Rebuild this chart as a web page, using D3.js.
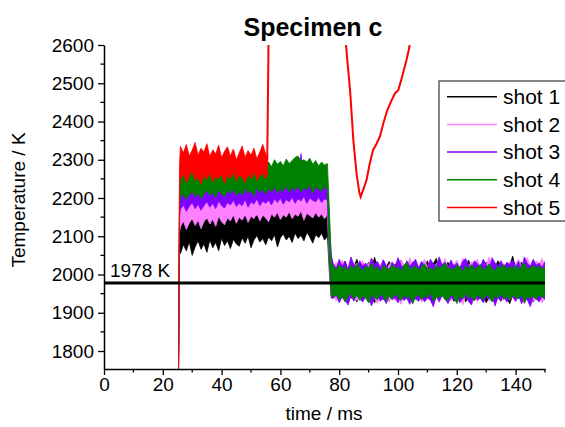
<!DOCTYPE html>
<html><head><meta charset="utf-8">
<script src="https://cdn.jsdelivr.net/npm/d3@7"></script>
<style>body{margin:0;background:#fff}svg{display:block;font-family:"Liberation Sans",Arial,sans-serif}</style>
</head><body><svg id="c" width="565" height="427"></svg>
<script>
// ---------- data ----------
const seriesNames = ["shot 1","shot 2","shot 3","shot 4","shot 5"];
const seriesColors = ["#000000","#ff80ff","#8000ff","#008000","#ff0000"];
const xTicks = [0,20,40,60,80,100,120,140];
const yTicks = [1800,1900,2000,2100,2200,2300,2400,2500,2600];
const refLevel = 1978;

const time = [25.3,25.7,
26,27,28,29,30,31,32,33,34,35,36,37,38,39,40,41,42,43,44,45,46,47,48,49,50,
51,52,53,54,55,56,57,58,59,60,61,62,63,64,65,66,67,68,69,70,71,72,73,74,75,76,
76.7,77.3,
78,79,80,81,82,83,84,85,86,87,88,89,90,91,92,93,94,95,96,97,98,99,100,
101,102,103,104,105,106,107,108,109,110,111,112,113,114,115,116,117,118,119,120,
121,122,123,124,125,126,127,128,129,130,131,132,133,134,135,136,137,138,139,140,
141,142,143,144,145,146,147,148,149,150];

const shot1Hi = [1700,2120,
2150,2135,2160,2142,2155,2138,2165,2148,2158,2140,
2162,2145,2156,2170,2150,2164,2146,2160,2152,2168,
2155,2162,2148,2172,2158,2166,2150,2170,2160,2175,
2162,2170,2156,2178,2165,2172,2158,2176,2168,2180,
2165,2174,2160,2178,2170,2182,2166,2176,2172,2180,2168,
2090,2040,
2025,2012,2030,2018,2035,2010,2028,2020,2040,2015,
2026,2018,2032,2012,2045,2022,2016,2030,2020,2034,
2014,2028,2022,2038,2012,2026,2018,2032,2024,2016,
2030,2020,2036,2014,2028,2042,2018,2026,2020,2032,
2016,2024,2034,2012,2028,2020,2038,2016,2030,2022,
2026,2014,2032,2020,2028,2018,2036,2022,2014,2030,
2024,2048,2018,2026,2032,2016,2028,2020,2034,2018,
2026,2030,2020];
const shot1Lo = [1700,2060,
2055,2078,2062,2085,2050,2072,2088,2066,2080,2058,
2090,2070,2084,2062,2095,2076,2088,2068,2092,2080,
2074,2096,2082,2100,2070,2090,2102,2085,2094,2078,
2098,2088,2104,2072,2096,2106,2090,2100,2084,2108,
2094,2102,2088,2110,2098,2082,2104,2096,2108,2090,2100,
2000,1945,
1940,1952,1934,1946,1930,1948,1938,1944,1928,1950,
1936,1944,1932,1948,1926,1940,1946,1934,1942,1930,
1948,1936,1944,1930,1950,1938,1942,1924,1946,1936,
1940,1932,1948,1938,1926,1944,1936,1950,1934,1942,
1946,1930,1940,1936,1948,1928,1942,1938,1932,1946,
1936,1944,1926,1940,1948,1934,1942,1930,1946,1938,
1924,1944,1936,1948,1930,1940,1934,1946,1928,1942,
1938,1932,1944];

const shot2Hi = [1700,2160,
2190,2178,2200,2185,2196,2180,2205,2188,2198,2184,
2202,2190,2196,2208,2186,2200,2194,2210,2192,2204,
2198,2206,2190,2212,2200,2194,2208,2202,2214,2196,
2206,2200,2212,2196,2210,2204,2216,2200,2208,2214,
2202,2210,2198,2216,2206,2212,2200,2214,2208,2204,2210,
2120,2045,
2020,2032,2014,2038,2024,2016,2042,2022,2030,2012,
2036,2020,2028,2044,2018,2030,2024,2040,2014,2026,
2034,2022,2016,2038,2028,2020,2044,2024,2030,2018,
2026,2040,2020,2032,2016,2028,2036,2022,2042,2018,
2030,2024,2038,2016,2044,2026,2020,2034,2028,2040,
2018,2032,2024,2046,2020,2030,2016,2036,2026,2022,
2034,2018,2028,2040,2022,2030,2044,2024,2016,2036,
2028,2042,2022];
const shot2Lo = [1700,2110,
2125,2140,2118,2135,2146,2128,2142,2120,2138,2150,
2132,2145,2126,2152,2138,2130,2148,2140,2156,2134,
2150,2142,2158,2136,2152,2146,2160,2140,2155,2148,
2138,2158,2150,2162,2144,2156,2150,2164,2146,2158,
2152,2166,2142,2160,2154,2148,2162,2150,2158,2146,2156,
2010,1940,
1944,1930,1948,1936,1942,1926,1946,1938,1932,1950,
1934,1942,1928,1946,1938,1924,1944,1936,1940,1930,
1946,1932,1940,1922,1944,1938,1930,1948,1934,1942,
1928,1940,1946,1932,1938,1944,1926,1942,1936,1948,
1930,1944,1934,1940,1920,1946,1938,1932,1944,1928,
1942,1936,1948,1930,1940,1924,1944,1938,1932,1946,
1934,1942,1928,1946,1936,1922,1940,1944,1930,1938,
1946,1926,1940];

const shot3Hi = [1700,2190,
2225,2212,2236,2218,2230,2214,2238,2222,2232,2216,
2240,2226,2234,2220,2244,2228,2236,2224,2242,2230,
2238,2226,2246,2232,2240,2228,2248,2236,2242,2230,
2246,2234,2250,2238,2244,2232,2252,2240,2248,2236,
2250,2316,2246,2238,2254,2240,2248,2244,2236,2250,2242,
2140,2050,
2028,2016,2040,2022,2034,2014,2046,2026,2018,2036,
2022,2030,2016,2042,2026,2034,2018,2038,2024,2012,
2032,2020,2044,2026,2016,2036,2022,2030,2040,2018,
2034,2024,2016,2040,2028,2020,2046,2026,2032,2018,
2038,2022,2030,2016,2034,2042,2024,2018,2036,2028,
2020,2040,2026,2014,2044,2030,2022,2036,2018,2032,
2026,2038,2020,2034,2016,2046,2028,2022,2040,2024,
2030,2018,2034];
const shot3Lo = [1700,2150,
2170,2182,2165,2178,2188,2172,2184,2168,2180,2190,
2176,2186,2172,2192,2180,2174,2188,2182,2194,2178,
2186,2180,2196,2176,2190,2184,2198,2180,2192,2186,
2194,2182,2198,2188,2200,2184,2196,2190,2202,2186,
2198,2192,2204,2186,2200,2194,2190,2202,2188,2198,2194,
2020,1938,
1938,1946,1926,1942,1934,1920,1944,1930,1948,1936,
1928,1942,1936,1918,1940,1946,1930,1938,1924,1944,
1934,1940,1926,1946,1932,1938,1922,1942,1936,1930,
1944,1928,1938,1934,1916,1942,1930,1946,1936,1924,
1940,1934,1944,1926,1938,1942,1930,1920,1946,1934,
1938,1926,1942,1936,1946,1918,1940,1932,1944,1928,
1936,1942,1930,1946,1924,1938,1934,1916,1942,1936,
1928,1944,1934];

const shot4Hi = [1700,2240,
2270,2282,2265,2278,2288,2272,2284,2268,2280,2290,
2276,2286,2272,2292,2280,2274,2288,2282,2294,2278,
2286,2280,2296,2276,2290,2284,2298,2280,2292,2286,
2294,2282,2300,2288,2296,2284,2302,2290,2298,2306,
2310,2296,2300,2294,2304,2288,2298,2284,2294,2286,2290,
2160,2030,
2022,2012,2026,2016,2020,2010,2024,2014,2028,2018,
2010,2022,2016,2030,2014,2020,2008,2024,2018,2012,
2026,2016,2020,2010,2024,2032,2014,2018,2022,2012,
2020,2028,2014,2018,2010,2024,2016,2022,2030,2014,
2018,2012,2024,2020,2008,2022,2016,2026,2014,2020,
2024,2012,2018,2028,2016,2010,2022,2018,2026,2014,
2020,2016,2024,2012,2022,2030,2014,2018,2024,2016,
2022,2014,2020];
const shot4Lo = [1700,2180,
2200,2212,2196,2208,2218,2202,2214,2198,2210,2220,
2206,2216,2200,2222,2210,2204,2218,2212,2224,2206,
2216,2208,2226,2212,2220,2204,2228,2214,2222,2210,
2226,2216,2230,2212,2224,2218,2232,2214,2228,2220,
2232,2216,2226,2222,2234,2212,2228,2224,2218,2230,2222,
2030,1945,
1940,1948,1934,1944,1928,1942,1950,1936,1946,1932,
1944,1938,1926,1946,1940,1934,1948,1942,1930,1944,
1936,1950,1940,1932,1946,1938,1944,1926,1942,1948,
1934,1944,1940,1952,1930,1942,1938,1946,1936,1932,
1948,1940,1924,1944,1936,1950,1938,1942,1932,1946,
1940,1934,1948,1942,1928,1944,1938,1950,1936,1942,
1932,1946,1940,1936,1948,1926,1942,1938,1944,1934,
1946,1940,1944];

// shot 5: noisy plateau, then the trace that leaves the chart and comes back
const shot5Time = [25.3,25.7,26,27,28,29,30,31,32,33,34,35,36,37,38,39,40,
41,42,43,44,45,46,47,48,49,50,51,52,53,54,55,55.5];
const shot5Hi = [1700,2290,
2335,2318,2340,2310,2325,2345,2312,2330,2320,2342,
2308,2326,2315,2338,2305,2322,2334,2310,2328,2300,
2318,2336,2306,2324,2312,2330,2302,2320,2340,2315,
2305];
const shot5Lo = [1700,2230,
2250,2262,2240,2258,2270,2245,2255,2236,2260,2248,
2266,2242,2256,2250,2264,2238,2258,2252,2268,2244,
2260,2254,2240,2262,2250,2270,2246,2258,2264,2250,
2262];
const shot5TraceTime = [55.5,55.7,55.9,56.1,81.9,82.3,83.0,83.7,84.8,85.9,86.8,87.3,88.0,
89.3,90.4,91.5,92.7,93.9,95.0,96.2,97.6,99.0,100.1,101.3,102.1,102.9,103.6,104.2];
const shot5TraceVal = [2290,2420,2560,2900,2700,2600,2540,2482,2352,2265,2216,2203,2218,
2247,2290,2325,2342,2362,2395,2426,2452,2474,2482,2514,2538,2561,2585,2610];

// ---------- chart ----------
const svg = d3.select("#c");
const x = d3.scaleLinear().domain([0,150]).range([104,545]);
const y = d3.scaleLinear().domain([1753,2600]).range([369,45]);

svg.append("defs").append("clipPath").attr("id","clip")
  .append("rect").attr("x",104).attr("y",45).attr("width",441).attr("height",324);

const plot = svg.append("g").attr("clip-path","url(#clip)");

const bands = [
  {hi:shot1Hi, lo:shot1Lo, t:time},
  {hi:shot2Hi, lo:shot2Lo, t:time},
  {hi:shot3Hi, lo:shot3Lo, t:time},
  {hi:shot4Hi, lo:shot4Lo, t:time},
  {hi:shot5Hi, lo:shot5Lo, t:shot5Time}
];
bands.forEach((b,k)=>{
  const area = d3.area()
    .x((d,i)=>x(b.t[i]))
    .y0((d,i)=>y(b.lo[i]))
    .y1((d,i)=>y(b.hi[i]));
  plot.append("path").datum(b.t).attr("d",area)
    .attr("fill",seriesColors[k]).attr("stroke",seriesColors[k]).attr("stroke-width",0.8)
    .attr("stroke-linejoin","miter").attr("stroke-miterlimit",8);
});

const traceLine = d3.line().x((d,i)=>x(shot5TraceTime[i])).y(d=>y(d));
plot.append("path").datum(shot5TraceVal).attr("d",traceLine)
  .attr("fill","none").attr("stroke",seriesColors[4]).attr("stroke-width",2);

// reference line
svg.append("line").attr("x1",x(0)).attr("x2",x(150)).attr("y1",y(refLevel)).attr("y2",y(refLevel))
  .attr("stroke","#000").attr("stroke-width",3);
svg.append("text").attr("x",110).attr("y",y(refLevel)-6).attr("font-size",19).text(refLevel+" K");

// axes
const minorX = d3.range(0,151,10).filter(v=>!xTicks.includes(v));
const minorY = d3.range(1800,2601,50).filter(v=>!yTicks.includes(v));

const gx = svg.append("g").attr("transform",`translate(0,${y.range()[0]})`)
  .call(d3.axisBottom(x).tickValues(xTicks).tickFormat(d3.format("d")).tickSize(6).tickSizeOuter(0).tickPadding(3));
gx.selectAll(".tick text").attr("font-size",19).attr("font-family","Liberation Sans, Arial").attr("fill","#000");
gx.selectAll(".tick line").attr("stroke-width",1.3);
gx.select(".domain").attr("stroke-width",1.5);
gx.selectAll(".minor").data(minorX).enter().append("line")
  .attr("x1",d=>x(d)).attr("x2",d=>x(d)).attr("y1",0).attr("y2",3.5).attr("stroke","#000").attr("stroke-width",1.3);

const gy = svg.append("g").attr("transform",`translate(${x.range()[0]},0)`)
  .call(d3.axisLeft(y).tickValues(yTicks).tickFormat(d3.format("d")).tickSize(6).tickSizeOuter(0).tickPadding(4));
gy.selectAll(".tick text").attr("font-size",19).attr("font-family","Liberation Sans, Arial").attr("fill","#000");
gy.selectAll(".tick line").attr("stroke-width",1.3);
gy.select(".domain").attr("stroke-width",1.5);
gy.selectAll(".minor").data(minorY).enter().append("line")
  .attr("y1",d=>y(d)).attr("y2",d=>y(d)).attr("x1",0).attr("x2",-3.5).attr("stroke","#000").attr("stroke-width",1.3);

// titles
svg.append("text").attr("x",313).attr("y",36).attr("text-anchor","middle")
  .attr("font-size",25).attr("font-weight","bold").text("Specimen c");
svg.append("text").attr("x",324).attr("y",420).attr("text-anchor","middle")
  .attr("font-size",19).text("time / ms");
svg.append("text").attr("transform","translate(25,200) rotate(-90)").attr("text-anchor","middle")
  .attr("font-size",19).text("Temperature / K");

// legend
const lg = svg.append("g");
lg.append("rect").attr("x",439).attr("y",81).attr("width",140).attr("height",140)
  .attr("fill","#fff").attr("stroke","#444").attr("stroke-width",1.3);
seriesNames.forEach((n,i)=>{
  const cy = 96.7 + i*27.7;
  lg.append("line").attr("x1",447).attr("x2",497).attr("y1",cy).attr("y2",cy)
    .attr("stroke",seriesColors[i]).attr("stroke-width",1.5);
  lg.append("text").attr("x",503).attr("y",cy).attr("dy","0.35em").attr("font-size",21).text(n);
});
</script></body></html>
